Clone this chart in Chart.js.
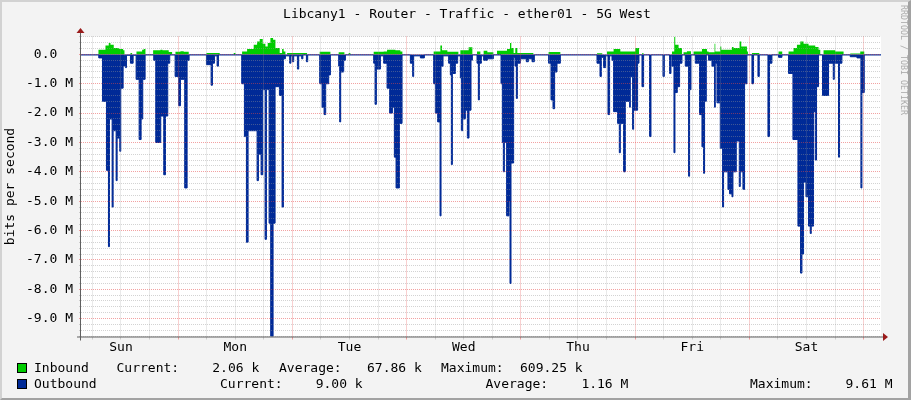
<!DOCTYPE html>
<html><head><meta charset="utf-8">
<script src="https://cdn.jsdelivr.net/npm/chart.js@4"></script>
<style>
html,body{margin:0;padding:0;background:#F3F3F3;}
#wrap{position:relative;width:911px;height:400px;background:#F3F3F3;overflow:hidden;font-family:"DejaVu Sans Mono",monospace;font-size:13px;color:#000;}
#c{position:absolute;left:0;top:0;}
.t{position:absolute;white-space:pre;line-height:16px;}
#frame{position:absolute;left:0;top:0;width:911px;height:400px;box-sizing:border-box;border-style:solid;border-width:2px 3px 2px 2px;border-color:#D2D2D2 #A2A2A2 #A2A2A2 #D2D2D2;pointer-events:none;}
.box{position:absolute;width:8px;height:8px;border:1px solid #000;}
#wm{position:absolute;left:909px;top:5px;transform-origin:0 0;transform:rotate(90deg);font-size:8.3px;line-height:10px;color:#ABABAB;white-space:pre;}
#title{position:absolute;left:0;top:6px;width:934px;text-align:center;line-height:16px;}
</style>
</head><body>
<div id="wrap">
<canvas id="c" width="911" height="400"></canvas>
<div id="title">Libcany1 - Router - Traffic - ether01 - 5G West</div>
<div id="wm">RRDTOOL / TOBI OETIKER</div>
<div class="box" style="left:17px;top:363px;background:#00CC00"></div>
<div class="box" style="left:17px;top:379px;background:#002A97"></div>
<div class="t" style="left:34px;top:360px">Inbound</div>
<div class="t" style="left:116.5px;top:360px">Current:</div>
<div class="t" style="left:212.3px;top:360px">2.06 k</div>
<div class="t" style="left:279px;top:360px">Average:</div>
<div class="t" style="left:367px;top:360px">67.86 k</div>
<div class="t" style="left:441px;top:360px">Maximum:</div>
<div class="t" style="left:520px;top:360px">609.25 k</div>
<div class="t" style="left:34px;top:376px">Outbound</div>
<div class="t" style="left:220px;top:376px">Current:</div>
<div class="t" style="left:315.7px;top:376px">9.00 k</div>
<div class="t" style="left:485.5px;top:376px">Average:</div>
<div class="t" style="left:581.4px;top:376px">1.16 M</div>
<div class="t" style="left:750px;top:376px">Maximum:</div>
<div class="t" style="left:845.5px;top:376px">9.61 M</div>
<div id="frame"></div>
</div>
<script>
const dayNames = ['Sun','Mon','Tue','Wed','Thu','Fri','Sat'];

// hours since Sunday 00:00, outbound traffic in Mbit/s (value holds until next time)
const outTimes = [3.49,7.33,8.11,8.95,9.37,9.58,10.14,10.35,10.98,11.19,11.74,11.95,12.45,12.73,12.94,13.15,13.99,14.55,15.18,15.81,16.23,16.57,17.07,18.88,19.3,20.35,20.98,21.34,21.82,22.24,23.37,24.13,24.49,25.39,25.89,26.31,29.95,30.93,31.21,31.63,32.19,32.47,37.36,37.93,38.35,38.7,40.59,40.87,41.43,41.77,42.27,42.55,43.11,43.45,43.95,44.37,45.28,45.84,46.12,46.54,47.44,47.69,48.01,48.28,49.06,49.33,49.96,50.21,50.95,51.22,53.74,54.24,54.66,55.0,55.63,55.99,57.73,57.94,58.15,58.78,59.14,65.08,65.37,65.65,66.49,67.18,67.89,68.44,69.01,69.43,69.78,70.48,71.04,72.79,73.27,73.48,74.89,75.73,77.68,78.04,78.52,79.02,79.23,79.65,80.83,81.19,81.4,81.61,82.24,82.72,83.29,83.5,83.77,84.34,84.76,85.11,85.53,85.81,86.79,87.07,87.28,87.7,88.18,88.96,90.22,91.83,92.11,92.32,92.53,93.01,93.51,93.72,93.93,94.48,94.77,95.05,95.26,95.89,97.15,97.57,98.34,98.83,101.83,102.33,102.75,103.09,103.59,104.29,111.99,112.62,112.9,113.38,113.8,114.3,114.64,115.14,115.48,116.32,116.68,116.89,117.58,117.94,118.84,118.99,119.47,119.68,120.52,120.81,121.44,121.78,123.04,123.33,125.85,126.13,127.24,127.53,127.74,128.16,128.37,128.86,129.34,129.84,130.54,131.23,131.44,131.73,132.64,133.54,134.04,134.38,134.59,134.95,135.43,136.14,136.69,136.84,137.19,137.89,138.37,138.58,139.5,139.84,140.34,140.55,141.25,141.88,142.09,142.65,142.99,143.49,144.54,144.88,145.8,146.08,147.9,148.24,148.74,150.13,150.84,152.23,153.15,154.2,154.75,155.04,155.38,155.88,156.43,156.79,157.0,157.48,157.84,158.11,158.53,159.37,160.63,161.62,161.83,162.73,162.94,163.44,165.19,166.6,167.43,167.64,168.13,171.7];
const outValues = [0.02,0.12,1.6,3.95,6.55,2.2,5.2,2.6,4.3,2.85,3.3,1.15,0.4,0.05,0.45,0.03,0.3,0.03,0.85,2.9,2.2,0.85,0.02,0.2,3.0,2.1,4.1,2.1,0.3,0.02,0.75,1.75,0.85,4.55,0.2,0.02,0.35,1.05,0.3,0.05,0.4,0.02,1.0,2.8,6.4,2.6,4.3,3.4,4.1,1.2,6.3,1.2,5.75,9.61,5.75,1.1,1.4,5.2,0.15,0.05,0.3,0.05,0.25,0.05,0.5,0.05,0.15,0.02,0.25,0.02,1.0,1.8,2.05,1.0,0.7,0.02,0.4,2.3,0.6,0.2,0.02,0.3,1.7,0.5,0.05,0.3,1.15,2.0,1.8,3.5,4.55,2.35,0.02,0.3,0.75,0.05,0.12,0.02,1.0,2.0,2.3,5.5,0.4,0.05,0.3,0.7,3.75,0.65,0.3,0.05,0.8,2.6,2.2,1.9,2.85,1.9,0.2,0.02,0.3,1.55,0.3,0.05,0.2,0.15,0.02,1.0,3.0,4.0,3.0,5.5,5.0,7.8,3.7,0.1,0.4,1.5,0.3,0.15,0.25,0.15,0.25,0.02,0.3,1.55,1.85,0.6,0.3,0.02,0.3,0.75,0.1,0.45,0.05,2.05,0.05,0.2,1.95,2.35,3.35,2.35,4.0,1.6,1.8,0.75,2.55,1.9,0.3,0.02,1.1,0.02,2.8,0.02,0.75,0.02,0.65,0.05,0.4,3.35,1.3,1.1,0.3,0.02,0.4,4.15,1.2,0.02,0.3,2.05,3.15,4.05,1.6,0.02,0.2,0.4,1.8,0.3,1.65,3.2,5.2,4.0,4.6,4.75,4.85,4.0,2.95,4.5,4.0,4.6,1.0,0.02,1.0,0.02,0.75,0.02,2.8,0.3,0.02,0.1,0.02,0.65,2.9,5.85,7.45,6.8,4.35,4.85,5.85,6.1,5.85,1.95,3.6,1.1,0.02,1.4,0.3,0.85,0.3,3.5,0.3,0.02,0.08,0.12,4.55,1.3,0.02,0.02];

// inbound traffic in Mbit/s
const inTimes = [3.49,7.27,8.74,9.43,9.79,10.48,11.53,12.45,12.73,13.99,14.34,15.25,16.44,16.78,17.14,18.75,20.29,20.71,22.03,22.74,23.44,24.49,25.18,26.23,29.95,32.74,35.68,36.04,37.44,38.49,39.88,40.59,41.14,41.77,42.34,42.82,43.39,43.95,44.44,45.34,45.84,46.17,46.54,46.89,51.09,53.74,55.99,57.73,58.93,59.83,60.18,65.08,67.18,67.89,69.64,70.69,71.11,77.68,79.09,79.44,80.56,82.87,83.29,85.03,85.81,86.79,87.49,88.18,88.96,90.22,90.99,93.09,93.72,93.99,94.48,94.83,95.26,98.62,101.83,104.29,111.99,113.1,114.09,115.48,116.89,120.04,120.81,121.44,121.78,127.74,128.22,128.43,129.13,129.84,130.17,130.88,131.73,132.28,134.04,135.09,135.43,136.69,136.84,137.89,138.1,140.34,140.68,141.94,142.3,143.49,143.7,144.54,146.08,150.13,150.9,152.23,153.28,153.99,154.69,155.38,156.43,157.84,158.53,158.89,159.58,162.04,163.79,165.19,167.29,168.13,171.7];
const inValues = [0,0.16,0.3,0.39,0.33,0.22,0.18,0.14,0,0.05,0,0.1,0.16,0.18,0,0.14,0.16,0.14,0.08,0,0.09,0.11,0.09,0,0.05,0,0.05,0,0.1,0.18,0.33,0.44,0.52,0.36,0.27,0.39,0.56,0.5,0.22,0.05,0.18,0.1,0,0.05,0,0.09,0,0.07,0,0.05,0,0.09,0.1,0.16,0.14,0.1,0,0.1,0.3,0.14,0.09,0,0.14,0.24,0,0.1,0,0.12,0.07,0,0.12,0.18,0.39,0.22,0.05,0.22,0.05,0,0.08,0,0.04,0,0.1,0.18,0.1,0.22,0,0.04,0,0.1,0.61,0.33,0.22,0,0.07,0.11,0,0.1,0.18,0.1,0.07,0.36,0.1,0.27,0.16,0.25,0.22,0.44,0.27,0.1,0,0.05,0,0.1,0,0.1,0.22,0.33,0.44,0.36,0.3,0.25,0.16,0,0.14,0.1,0,0.03,0.1,0,0];

const outData = outTimes.map((t, i) => ({x: t, y: -outValues[i]}));
const inData = inTimes.map((t, i) => ({x: t, y: inValues[i]}));

const RED = 'rgba(230,70,70,0.5)';
const GREY = 'rgba(150,150,150,0.42)';
const FONT = {family: 'DejaVu Sans Mono', size: 13};
const isWhole = v => Math.abs(v - Math.round(v)) < 1e-6;

const bgPlugin = {
  id: 'bg',
  beforeDraw(chart) {
    const {ctx, chartArea: a} = chart;
    ctx.save();
    ctx.fillStyle = '#FFFFFF';
    ctx.fillRect(a.left, a.top, a.right - a.left, a.bottom - a.top);
    ctx.restore();
  },
  afterDraw(chart) {
    const {ctx, chartArea: a} = chart;
    ctx.save();
    ctx.strokeStyle = '#606060';
    ctx.lineWidth = 1;
    ctx.beginPath();
    ctx.moveTo(a.left - 0.5, a.top - 4);
    ctx.lineTo(a.left - 0.5, a.bottom + 4);
    ctx.moveTo(a.left - 4, a.bottom + 0.5);
    ctx.lineTo(a.right + 3, a.bottom + 0.5);
    ctx.stroke();
    ctx.fillStyle = '#9A1B1B';
    ctx.beginPath();
    ctx.moveTo(a.left - 4.5, a.top - 3.5);
    ctx.lineTo(a.left + 3.5, a.top - 3.5);
    ctx.lineTo(a.left - 0.5, a.top - 8.5);
    ctx.closePath();
    ctx.fill();
    ctx.beginPath();
    ctx.moveTo(a.right + 2, a.bottom - 3.5);
    ctx.lineTo(a.right + 2, a.bottom + 4.5);
    ctx.lineTo(a.right + 7, a.bottom + 0.5);
    ctx.closePath();
    ctx.fill();
    ctx.restore();
  }
};

new Chart(document.getElementById('c'), {
  type: 'line',
  data: {
    datasets: [
      {label: 'Outbound', data: outData, stepped: true, borderColor: '#002A97', backgroundColor: '#002A97', borderWidth: 1, fill: 'origin', pointRadius: 0, order: 1},
      {label: 'Inbound', data: inData, stepped: true, borderColor: '#00CC00', backgroundColor: '#00CC00', borderWidth: 0, fill: 'origin', pointRadius: 0, order: 2}
    ]
  },
  options: {
    responsive: false,
    animation: false,
    devicePixelRatio: 1,
    layout: {padding: {left: 0, top: 36.5, right: 30, bottom: 0}},
    plugins: {legend: {display: false}, tooltip: {enabled: false}, title: {display: false}},
    scales: {
      x: {
        type: 'linear', min: 3.6, max: 171.65,
        afterFit: s => { s.height = 63.5; },
        grid: {
          color: c => (c.tick && c.tick.value % 24 === 0) ? RED : GREY,
          tickColor: c => (c.tick && c.tick.value % 24 === 0) ? RED : GREY,
          z: 1, drawTicks: true, tickLength: 3
        },
        border: {display: false, dash: [1, 1]},
        ticks: {
          stepSize: 6, autoSkip: false, maxRotation: 0, includeBounds: false, padding: 0,
          color: '#000', font: FONT,
          callback: v => (v % 24 === 12) ? dayNames[Math.floor(v / 24)] : ''
        }
      },
      y: {
        min: -9.61, max: 0.60925,
        afterFit: s => { s.width = 81; },
        grid: {
          color: c => (c.tick && isWhole(c.tick.value)) ? RED : GREY,
          tickColor: c => (c.tick && isWhole(c.tick.value)) ? RED : GREY,
          z: 1, drawTicks: true, tickLength: 2
        },
        border: {display: false, dash: [1, 1]},
        ticks: {
          stepSize: 0.2, autoSkip: false, includeBounds: false, padding: 6,
          color: '#000', font: FONT,
          callback: v => {
            if (!isWhole(v)) return '';
            const r = Math.round(v);
            return r === 0 ? '0.0  ' : r.toFixed(1) + ' M';
          }
        },
        title: {display: true, text: 'bits per second', color: '#000', font: FONT, padding: {top: 3, bottom: 0}}
      }
    }
  },
  plugins: [bgPlugin]
});
</script>
</body></html>
